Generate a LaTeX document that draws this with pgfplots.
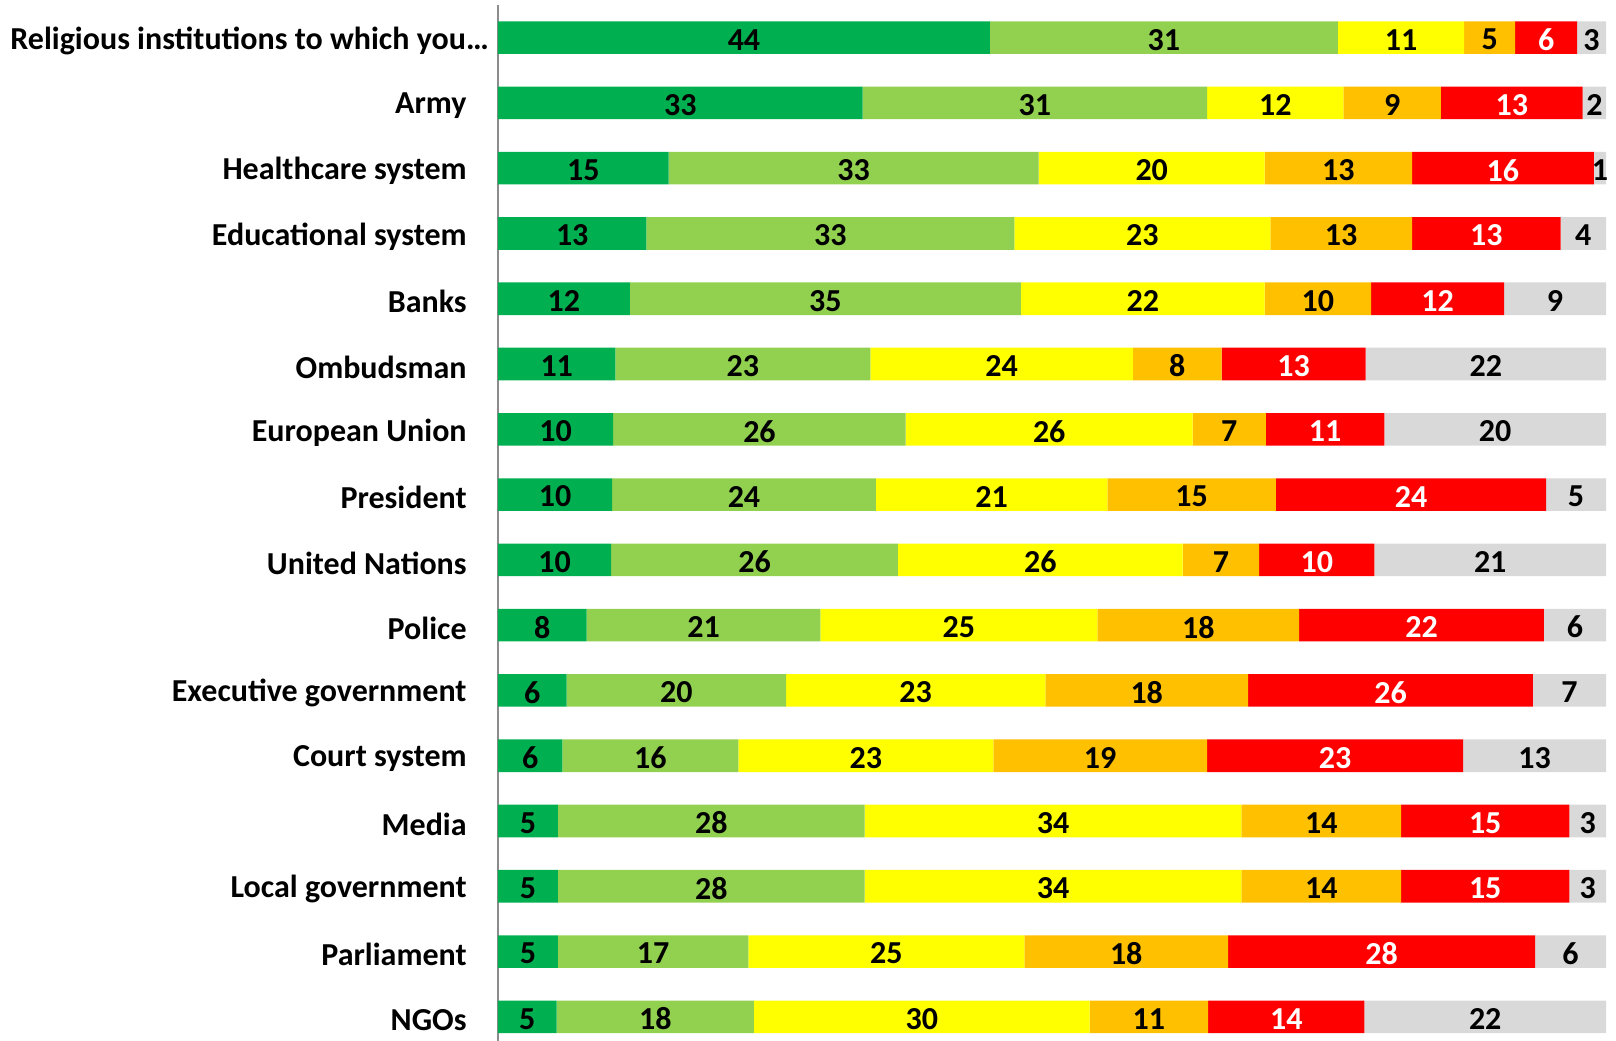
\documentclass[border=0pt]{standalone}
\usepackage{fontspec}
\setmainfont{Carlito}
\usepackage{pgfplots}
\usepackage{pgfplotstable}
\pgfplotsset{compat=1.18}

\definecolor{dgreen}{HTML}{00B050}
\definecolor{lgreen}{HTML}{92D050}
\definecolor{yel}{HTML}{FFFF00}
\definecolor{orng}{HTML}{FFC000}
\definecolor{rd}{HTML}{FF0000}
\definecolor{gry}{HTML}{D9D9D9}
\definecolor{axgray}{HTML}{8C8C8C}

% shares; each rounds to the printed label
\pgfplotstableread{
y  a    b    c    d    e    f
0  44.4 31.4 11.4 4.6  5.6  2.6
1  32.9 31.1 12.3 8.8  12.8 2.1
2  15.4 33.4 20.4 13.3 16.4 1.1
3  13.4 33.2 23.1 12.8 13.4 4.1
4  11.9 35.3 22.0 9.6  12.0 9.2
5  10.6 23.0 23.7 8.0  13.0 21.7
6  10.4 26.4 25.9 6.6  10.7 20.0
7  10.3 23.8 20.9 15.2 24.4 5.4
8  10.2 25.9 25.7 6.9  10.4 20.9
9  8.0  21.1 25.0 18.2 22.1 5.6
10 6.2  19.8 23.4 18.3 25.7 6.6
11 5.8  15.9 23.0 19.3 23.1 12.9
12 5.4  27.7 34.0 14.4 15.2 3.3
13 5.4  27.7 34.0 14.4 15.2 3.3
14 5.4  17.2 24.9 18.4 27.7 6.4
15 5.3  17.8 30.3 10.7 14.1 21.8
}\trust

\begin{document}
\begin{tikzpicture}
\begin{axis}[
    name=ax,
    scale only axis,
    width=554pt, height=518pt,
    xbar stacked,
    bar width=16.3pt,
    xmin=0, xmax=100,
    ymin=-0.5, ymax=15.37,
    y dir=reverse,
    axis x line=none,
    axis y line*=left,
    y axis line style={draw=axgray, line width=1pt},
    ytick={0,...,15},
    yticklabels={{Religious institutions to which you…\kern-11pt},Army,Healthcare system,Educational system,Banks,Ombudsman,European Union,President,United Nations,Police,Executive government,Court system,Media,Local government,Parliament,NGOs},
    major tick length=0pt,
    yticklabel style={font=\fontsize{16}{19}\selectfont\bfseries, inner sep=0pt, yshift=-1.5pt},
    yticklabel shift=15.5pt,
    /pgf/number format/assume math mode=true,
    point meta=explicit symbolic,
    nodes near coords={\pgfmathprintnumber[fixed,precision=0]{\pgfplotspointmeta}},
    every node near coord/.append style={font=\fontsize{16}{19}\selectfont\bfseries, anchor=center, inner sep=0pt, yshift=-1pt},
]
\addplot[fill=dgreen, draw=none] table[x=a, y=y, meta=a] {\trust};
\addplot[fill=lgreen, draw=none] table[x=b, y=y, meta=b] {\trust};
\addplot[fill=yel, draw=none] table[x=c, y=y, meta=c] {\trust};
\addplot[fill=orng, draw=none] table[x=d, y=y, meta=d] {\trust};
\addplot[fill=rd, draw=none, every node near coord/.append style={text=white}] table[x=e, y=y, meta=e] {\trust};
\addplot[fill=gry, draw=none] table[x=f, y=y, meta=f] {\trust};
\end{axis}
\pgfresetboundingbox
\path[use as bounding box] ([xshift=-249pt]ax.south west) rectangle ([xshift=5pt,yshift=2.5pt]ax.north east);
\end{tikzpicture}
\end{document}
